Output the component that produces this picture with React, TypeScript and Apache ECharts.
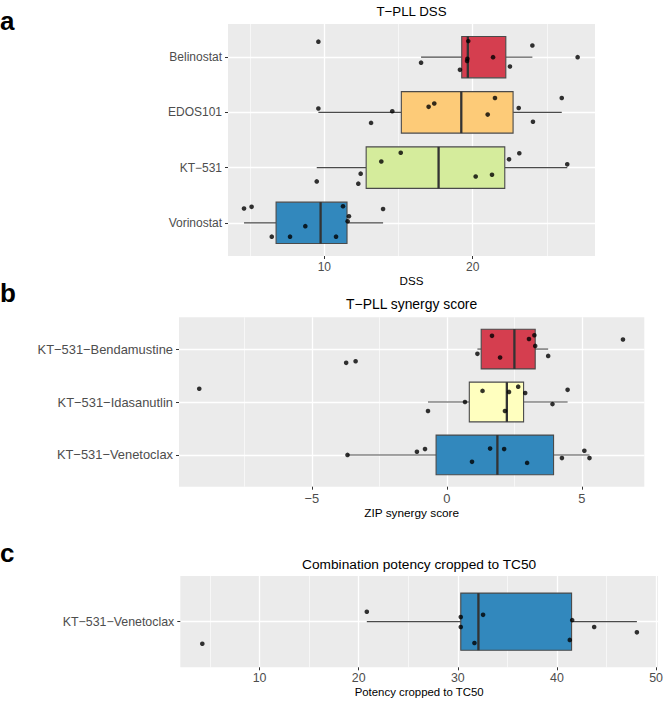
import React, { useEffect, useRef } from 'react';
import * as echarts from 'echarts';

// ---------- Panel a: T-PLL DSS ----------
const dssCategories = ['Belinostat', 'EDOS101', 'KT−531', 'Vorinostat'];
const dssColors = ['#D53E4F', '#FDCB78', '#D5EC9C', '#3288BD'];
// [lower whisker, Q1, median, Q3, upper whisker]
const dssBoxes = [
  [16.52, 19.26, 19.67, 22.23, 24.02],
  [9.6, 15.19, 19.23, 22.72, 26.0],
  [9.49, 12.82, 17.7, 22.16, 26.37],
  [4.59, 6.75, 9.75, 11.53, 13.96],
];
const dssPoints = [
  [9.6, 16.52, 19.14, 19.62, 19.64, 19.7, 21.37, 22.51, 24.02, 27.07],
  [9.6, 13.15, 14.58, 17.03, 17.41, 21.01, 21.5, 23.1, 24.06, 26.0],
  [9.49, 12.29, 12.45, 13.84, 15.15, 20.2, 21.3, 22.45, 23.14, 26.37],
  [4.59, 5.1, 6.46, 7.69, 8.72, 10.79, 11.26, 11.66, 11.57, 13.96],
];
const dssJitter = [
  [-0.28, 0.1, 0.23, 0.07, 0.03, -0.29, 0.0, 0.17, -0.21, 0.0],
  [-0.07, 0.19, -0.02, -0.1, -0.16, 0.04, -0.26, -0.08, 0.17, -0.26],
  [0.25, 0.29, 0.11, -0.11, -0.27, 0.16, 0.13, -0.15, -0.26, -0.06],
  [-0.26, -0.29, 0.25, 0.25, 0.06, 0.25, -0.3, -0.12, -0.03, -0.25],
];
const dssMajorTicks = [10, 20];
const dssMinorTicks = [5, 15, 25];

// ---------- Panel b: T-PLL synergy score ----------
const synCategories = ['KT−531−Bendamustine', 'KT−531−Idasanutlin', 'KT−531−Venetoclax'];
const synColors = ['#D53E4F', '#FFFFBF', '#3288BD'];
const synBoxes = [
  [1.13, 1.27, 2.5, 3.27, 3.75],
  [-0.7, 0.83, 2.22, 2.84, 4.47],
  [-3.68, -0.4, 1.87, 3.95, 5.28],
];
const synPoints = [
  [-3.73, -3.38, 1.13, 1.67, 1.97, 3.04, 3.24, 3.27, 3.75, 6.52],
  [-9.17, -0.7, 0.67, 1.32, 2.15, 2.3, 2.64, 2.9, 3.91, 4.47],
  [-3.68, -1.11, -0.81, 0.93, 1.6, 2.12, 2.97, 4.26, 5.09, 5.28],
];
const synJitter = [
  [0.26, 0.23, 0.09, -0.25, 0.16, -0.19, -0.26, -0.06, 0.13, -0.18],
  [-0.25, 0.17, 0.0, -0.21, 0.17, -0.19, -0.29, -0.17, 0.04, -0.23],
  [0.0, -0.06, -0.11, 0.13, -0.12, -0.11, 0.15, 0.06, -0.08, 0.06],
];
const synMajorTicks = [-5, 0, 5];
const synMinorTicks = [-7.5, -2.5, 2.5];

// ---------- Panel c: Combination potency ----------
const potCategories = ['KT−531−Venetoclax'];
const potColors = ['#3288BD'];
const potBoxes = [[20.82, 30.3, 32.08, 41.48, 48.07]];
const potPoints = [[4.22, 20.82, 30.3, 30.3, 31.68, 32.55, 41.3, 41.54, 43.76, 48.07]];
const potJitter = [[0.29, -0.13, -0.06, 0.07, 0.28, -0.09, 0.24, -0.02, 0.07, 0.14]];
const potMajorTicks = [10, 20, 30, 40, 50];
const potMinorTicks = [5, 15, 25, 35, 45];

const FONT = 'Liberation Sans, Arial, Helvetica, sans-serif';

type Panel = {
  cats: string[];
  colors: string[];
  boxes: number[][];
  points: number[][];
  jitter: number[][];
  major: number[];
  minor: number[];
  xmin: number;
  xmax: number;
  grid: { left: number; top: number; width: number; height: number };
  labelSize: number;
  title: string;
  titleSize: number;
  titleY: number;
  xTitle: string;
  xTitleSize: number;
  xTitleY: number;
  letter: string;
  letterY: number;
};

const panels: Panel[] = [
  {
    cats: dssCategories, colors: dssColors, boxes: dssBoxes, points: dssPoints, jitter: dssJitter,
    major: dssMajorTicks, minor: dssMinorTicks, xmin: 3.51, xmax: 28.24,
    grid: { left: 228, top: 24, width: 367, height: 232 },
    labelSize: 12, title: 'T−PLL DSS', titleSize: 13.3, titleY: 11.2,
    xTitle: 'DSS', xTitleSize: 11.6, xTitleY: 280, letter: 'a', letterY: 21,
  },
  {
    cats: synCategories, colors: synColors, boxes: synBoxes, points: synPoints, jitter: synJitter,
    major: synMajorTicks, minor: synMinorTicks, xmin: -9.92, xmax: 7.31,
    grid: { left: 179, top: 317.3, width: 465.3, height: 169.4 },
    labelSize: 12.9, title: 'T−PLL synergy score', titleSize: 13.9, titleY: 304.3,
    xTitle: 'ZIP synergy score', xTitleSize: 11.8, xTitleY: 512.5, letter: 'b', letterY: 293,
  },
  {
    cats: potCategories, colors: potColors, boxes: potBoxes, points: potPoints, jitter: potJitter,
    major: potMajorTicks, minor: potMinorTicks, xmin: 2.0, xmax: 50.2,
    grid: { left: 180.3, top: 576, width: 477.7, height: 91.3 },
    labelSize: 12.4, title: 'Combination potency cropped to TC50', titleSize: 13.7, titleY: 564.7,
    xTitle: 'Potency cropped to TC50', xTitleSize: 11.4, xTitleY: 692, letter: 'c', letterY: 553,
  },
];

const fmtNum = (v: number) => {
  const r = Math.round(v * 1000) / 1000;
  if (r === 0) return '0';
  return r < 0 ? '−' + Math.abs(r) : String(r);
};

function buildOption() {
  const grids: any[] = [];
  const xAxes: any[] = [];
  const yAxes: any[] = [];
  const series: any[] = [];
  const graphics: any[] = [];

  panels.forEach((p, i) => {
    grids.push({
      ...p.grid,
      show: true,
      backgroundColor: '#EBEBEB',
      borderWidth: 0,
      containLabel: false,
    });
    // major axis: ticks and major grid lines
    xAxes.push({
      type: 'value', gridIndex: i, min: p.xmin, max: p.xmax, position: 'bottom',
      axisLine: { show: false, onZero: false },
      axisTick: { show: true, length: 3, lineStyle: { color: '#333333', width: 1 }, customValues: p.major },
      axisLabel: { show: false, customValues: p.major },
      splitLine: { show: true, lineStyle: { color: '#FFFFFF', width: 1.3 } },
    });
    // minor axis: minor grid lines only
    xAxes.push({
      type: 'value', gridIndex: i, min: p.xmin, max: p.xmax, position: 'top',
      axisLine: { show: false, onZero: false },
      axisTick: { show: false, customValues: p.minor },
      axisLabel: { show: false, customValues: p.minor },
      splitLine: { show: true, lineStyle: { color: '#FFFFFF', width: 0.6 } },
    });
    const idx = p.cats.map((_, k) => k + 1);
    yAxes.push({
      type: 'value', gridIndex: i, inverse: true, min: 0.4, max: p.cats.length + 0.6, position: 'left',
      axisLine: { show: false, onZero: false },
      axisTick: { show: true, length: 3, lineStyle: { color: '#333333', width: 1 }, customValues: idx },
      axisLabel: {
        customValues: idx, color: '#4D4D4D', fontSize: p.labelSize, fontFamily: FONT, margin: 6,
        showMinLabel: true, showMaxLabel: true, hideOverlap: false,
        formatter: (v: number) => p.cats[Math.round(v) - 1] ?? '',
      },
      splitLine: { show: true, lineStyle: { color: '#FFFFFF', width: 1.3 } },
    });

    const colors = p.colors;
    series.push({
      type: 'custom',
      xAxisIndex: i * 2,
      yAxisIndex: i,
      z: 3,
      encode: { x: [1, 2, 3, 4, 5], y: 0 },
      data: p.boxes.map((b, k) => [k + 1, ...b]),
      renderItem: (params: any, api: any) => {
        const c = api.value(0);
        const lo = api.coord([api.value(1), c]);
        const q1 = api.coord([api.value(2), c]);
        const md = api.coord([api.value(3), c]);
        const q3 = api.coord([api.value(4), c]);
        const hi = api.coord([api.value(5), c]);
        const h = api.size([0, 0.75])[1];
        const y = q1[1];
        const color = colors[params.dataIndex];
        return {
          type: 'group',
          children: [
            { type: 'line', shape: { x1: lo[0], y1: y, x2: q1[0], y2: y }, style: { stroke: '#4A4A4A', lineWidth: 1.1 } },
            { type: 'line', shape: { x1: q3[0], y1: y, x2: hi[0], y2: y }, style: { stroke: '#4A4A4A', lineWidth: 1.1 } },
            {
              type: 'rect',
              shape: { x: q1[0], y: y - h / 2, width: q3[0] - q1[0], height: h },
              style: { fill: color, stroke: '#4A4A4A', lineWidth: 1.1 },
            },
            { type: 'line', shape: { x1: md[0], y1: y - h / 2, x2: md[0], y2: y + h / 2 }, style: { stroke: '#333333', lineWidth: 2.3 } },
          ],
        };
      },
    });

    // x tick labels, drawn by a custom series through the panel's x scale
    const yBottom = p.cats.length + 0.6;
    const labelSize = p.labelSize;
    series.push({
      type: 'custom',
      xAxisIndex: i * 2,
      yAxisIndex: i,
      z: 10,
      clip: false,
      silent: true,
      encode: { x: 0 },
      data: p.major.map((v) => [v]),
      renderItem: (params: any, api: any) => {
        const v = api.value(0);
        const pt = api.coord([v, yBottom]);
        return {
          type: 'text',
          x: pt[0],
          y: pt[1] + 5,
          style: {
            text: fmtNum(v),
            fill: '#4D4D4D',
            fontSize: labelSize,
            fontFamily: FONT,
            align: 'center',
            verticalAlign: 'top',
          },
        };
      },
    });

    const pts: number[][] = [];
    p.points.forEach((arr, k) => {
      arr.forEach((v, j) => pts.push([v, k + 1 + p.jitter[k][j]]));
    });
    series.push({
      type: 'scatter',
      xAxisIndex: i * 2,
      yAxisIndex: i,
      z: 5,
      symbol: 'circle',
      symbolSize: 4.6,
      itemStyle: { color: '#000000' },
      data: pts,
      silent: true,
    });

    const cx = p.grid.left + p.grid.width / 2;
    graphics.push({
      type: 'text', id: `title-${i}`, x: cx, y: p.titleY,
      style: { text: p.title, fill: '#000000', fontSize: p.titleSize, fontFamily: FONT, align: 'center', verticalAlign: 'middle' },
    });
    graphics.push({
      type: 'text', id: `xtitle-${i}`, x: cx, y: p.xTitleY,
      style: { text: p.xTitle, fill: '#000000', fontSize: p.xTitleSize, fontFamily: FONT, align: 'center', verticalAlign: 'middle' },
    });
    graphics.push({
      type: 'text', id: `letter-${i}`, x: 0, y: p.letterY,
      style: { text: p.letter, fill: '#000000', fontSize: 26, fontWeight: 'bold', fontFamily: FONT, align: 'left', verticalAlign: 'middle' },
    });
  });

  return {
    animation: false,
    backgroundColor: '#FFFFFF',
    grid: grids,
    xAxis: xAxes,
    yAxis: yAxes,
    series,
    graphic: graphics,
  };
}

export default function App() {
  const ref = useRef<HTMLDivElement>(null);
  useEffect(() => {
    if (!ref.current) return;
    const chart = echarts.init(ref.current, undefined, { renderer: 'svg' });
    chart.setOption(buildOption() as any);
    return () => chart.dispose();
  }, []);
  return (
    <div
      ref={ref}
      style={{ position: 'absolute', left: 0, top: 0, width: 665, height: 705, background: '#FFFFFF' }}
    />
  );
}
